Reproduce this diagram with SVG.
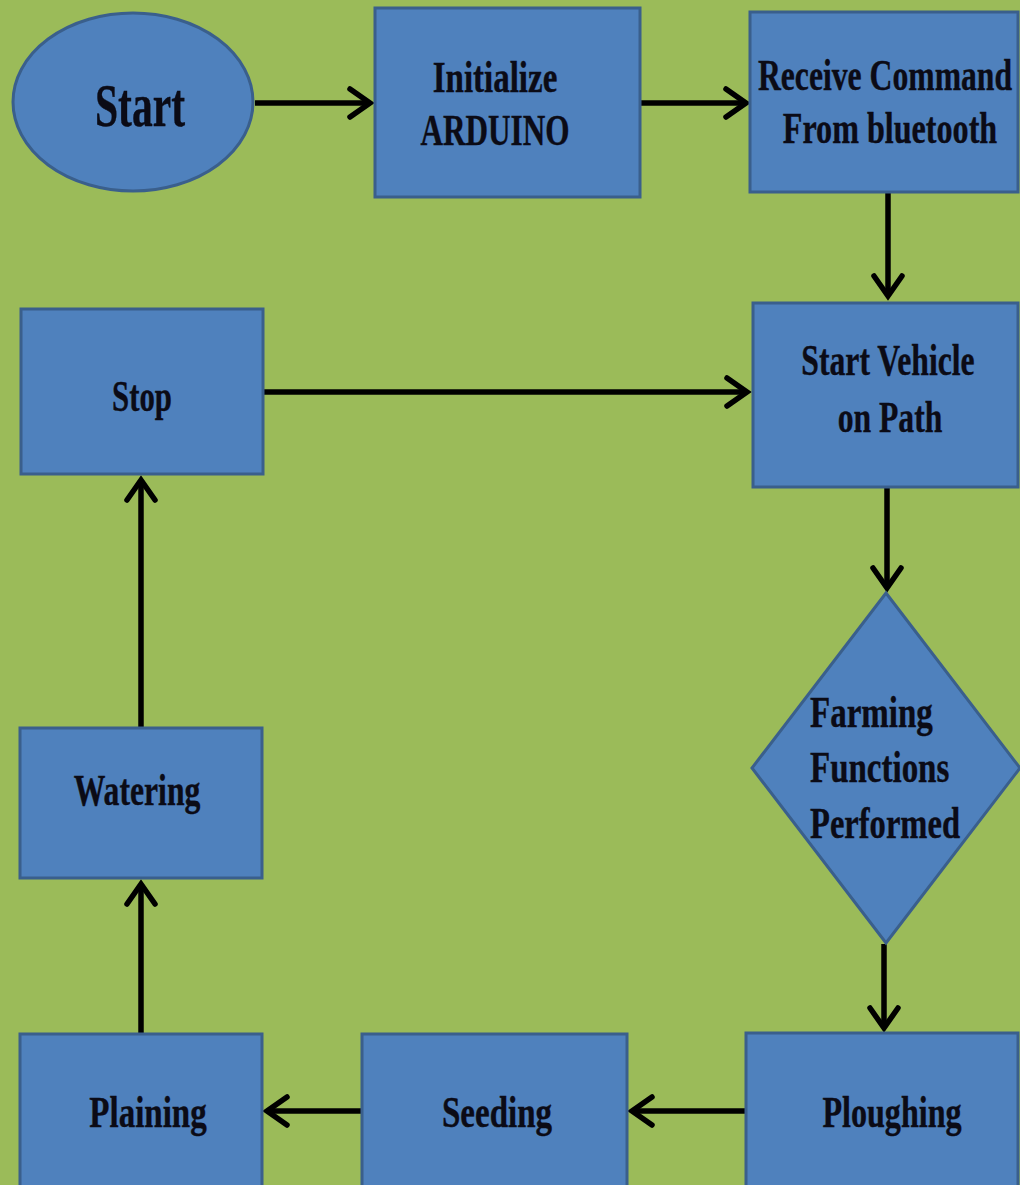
<svg xmlns="http://www.w3.org/2000/svg" width="1020" height="1185" viewBox="0 0 1020 1185">
<defs>
<style>
.node{fill:#4F81BD;stroke:#3A5F8C;stroke-width:3}
.t{font-family:"Liberation Serif","Times New Roman",serif;font-weight:bold;font-size:44px;fill:#0B0B16;stroke:#0B0B16;stroke-width:0.4}
.c{text-anchor:middle}
.edge{stroke:#000;stroke-width:5.5;fill:none;marker-end:url(#ah)}
</style>
<marker id="ah" markerUnits="userSpaceOnUse" markerWidth="40" markerHeight="40" viewBox="-26 -20 32 40" refX="0" refY="0" orient="auto">
<path d="M-20,-14 L0,0 L-20,14" fill="none" stroke="#000" stroke-width="5.5" stroke-linecap="round" stroke-linejoin="miter"/>
</marker>
</defs>
<rect width="1020" height="1185" fill="#9BBB59"/>
<g id="connectors">
<path class="edge" d="M255,103 H370"/>
<path class="edge" d="M641,103 H746"/>
<path class="edge" d="M888,193 V296"/>
<path class="edge" d="M263,392 H747"/>
<path class="edge" d="M887,488 V588"/>
<path class="edge" d="M884,944 V1028"/>
<path class="edge" d="M745,1111 H632"/>
<path class="edge" d="M361,1111 H267"/>
<path class="edge" d="M141,1033 V884"/>
<path class="edge" d="M141,727 V480"/>
</g>
<g id="start">
<ellipse class="node" cx="133" cy="102" rx="120" ry="89"/>
<text class="t c" transform="matrix(0.67 0 0 1 140 126)" style="font-size:62px">Start</text>
</g>
<g id="initialize">
<rect class="node" x="375" y="8" width="265" height="189"/>
<text class="t c" transform="matrix(0.75 0 0 1 495 92)">Initialize</text>
<text class="t c" transform="matrix(0.71 0 0 1 495 145)">ARDUINO</text>
</g>
<g id="receive">
<rect class="node" x="750" y="12" width="268" height="180"/>
<text class="t c" transform="matrix(0.72 0 0 1 885 90)">Receive Command</text>
<text class="t c" transform="matrix(0.73 0 0 1 890 143)">From bluetooth</text>
</g>
<g id="startvehicle">
<rect class="node" x="753" y="303" width="265" height="184"/>
<text class="t c" transform="matrix(0.72 0 0 1 888 375)">Start Vehicle</text>
<text class="t c" transform="matrix(0.72 0 0 1 890 432)">on Path</text>
</g>
<g id="stop">
<rect class="node" x="21" y="309" width="242" height="165"/>
<text class="t c" transform="matrix(0.70 0 0 1 142 411)">Stop</text>
</g>
<g id="farming">
<polygon class="node" points="886,593 1020,768 886,943 752,768"/>
<text class="t" transform="matrix(0.75 0 0 1 810 727)">Farming</text>
<text class="t" transform="matrix(0.75 0 0 1 810 782)">Functions</text>
<text class="t" transform="matrix(0.74 0 0 1 810 838)">Performed</text>
</g>
<g id="watering">
<rect class="node" x="20" y="728" width="242" height="150"/>
<text class="t c" transform="matrix(0.72 0 0 1 137 805)">Watering</text>
</g>
<g id="ploughing">
<rect class="node" x="746" y="1033" width="272" height="160"/>
<text class="t c" transform="matrix(0.73 0 0 1 892 1127)">Ploughing</text>
</g>
<g id="seeding">
<rect class="node" x="362" y="1034" width="265" height="160"/>
<text class="t c" transform="matrix(0.75 0 0 1 497 1127)">Seeding</text>
</g>
<g id="plaining">
<rect class="node" x="20" y="1034" width="242" height="160"/>
<text class="t c" transform="matrix(0.75 0 0 1 148 1127)">Plaining</text>
</g>
</svg>
